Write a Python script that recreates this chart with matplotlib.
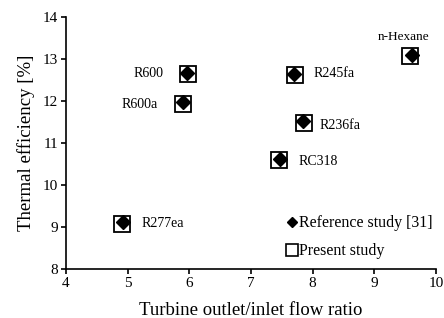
import matplotlib
matplotlib.use("Agg")
import matplotlib.pyplot as plt
from matplotlib.lines import Line2D

plt.rcParams["font.family"] = ["Liberation Serif", "DejaVu Serif"]

# ── 데이터 ──
FLUIDS = ["R277ea", "R600", "R600a", "R245fa", "R236fa", "RC318", "n-Hexane"]
RATIO_PRESENT = [4.91, 5.98, 5.89, 7.71, 7.86, 7.46, 9.58]
EFF_PRESENT = [9.07, 12.64, 11.94, 12.61, 11.48, 10.60, 13.07]
RATIO_REF = [4.92, 5.97, 5.90, 7.69, 7.84, 7.47, 9.61]
EFF_REF = [9.12, 12.66, 11.98, 12.64, 11.53, 10.62, 13.09]

# 라벨 위치 (offset pixels, ha, fontsize)
LABEL_POS = {
    "R277ea": (19, 1, "left", 10),
    "R600": (-25, 1, "right", 10),
    "R600a": (-25, -1, "right", 10),
    "R245fa": (19, 2, "left", 10),
    "R236fa": (16, -3, "left", 10),
    "RC318": (19, -2, "left", 10),
    "n-Hexane": (-7, 19, "center", 9.5),
}

fig = plt.figure(figsize=(4.44, 3.18), dpi=100)
ax = fig.add_axes([0.1486, 0.154, 0.8334, 0.7925])

ax.plot(RATIO_PRESENT, EFF_PRESENT, linestyle="none", marker="s", markersize=11.5,
        markerfacecolor="white", markeredgecolor="black", markeredgewidth=1.3, zorder=3)
ax.plot(RATIO_REF, EFF_REF, linestyle="none", marker="D", markersize=7.5,
        color="black", zorder=4)

for name, x, y in zip(FLUIDS, RATIO_PRESENT, EFF_PRESENT):
    dx, dy, ha, fs = LABEL_POS[name]
    ax.annotate(name, (x, y), textcoords="offset pixels", xytext=(dx, dy),
                ha=ha, va="center", fontsize=fs)

ax.set_xlim(4, 10)
ax.set_ylim(8, 14)
ax.set_xticks(range(4, 11))
ax.set_yticks(range(8, 15))
ax.tick_params(labelsize=11, width=1.2, length=3.5, direction="out", pad=2)
for s in ["top", "right"]:
    ax.spines[s].set_visible(False)
for s in ["left", "bottom"]:
    ax.spines[s].set_linewidth(1.2)

ax.set_xlabel("Turbine outlet/inlet flow ratio", fontsize=13.5, labelpad=9)
ax.set_ylabel("Thermal efficiency [%]", fontsize=13.5, labelpad=6)

handles = [
    Line2D([], [], linestyle="none", marker="D", markersize=5.5, color="black"),
    Line2D([], [], linestyle="none", marker="s", markersize=8.5,
           markerfacecolor="white", markeredgecolor="black", markeredgewidth=1.2),
]
ax.legend(handles, ["Reference study [31]", "Present study"], loc="upper left",
          bbox_to_anchor=(0.575, 0.245), frameon=False, fontsize=11.5,
          handlelength=0.6, handletextpad=0.15, labelspacing=0.75, borderpad=0)

fig.savefig("out.png", dpi=100)
